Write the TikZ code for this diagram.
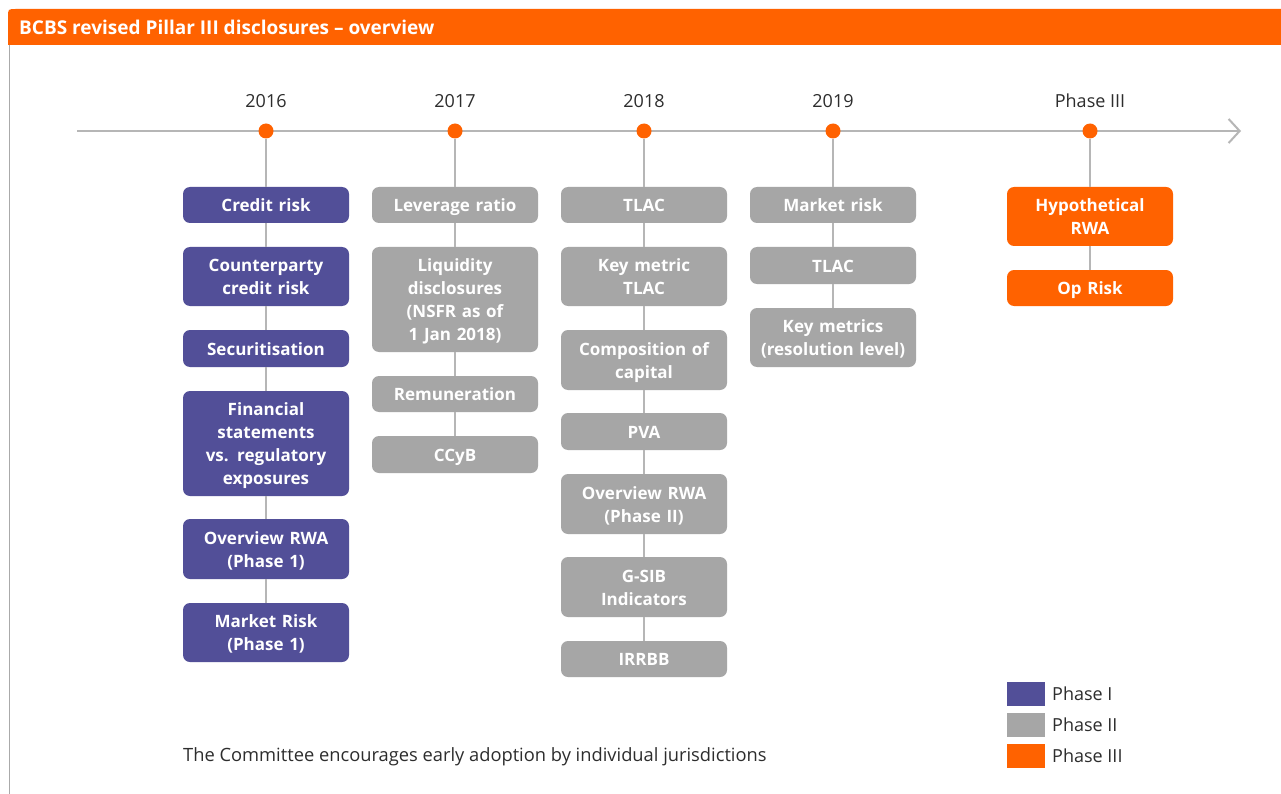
\documentclass[tikz,border=0pt]{standalone}
\usepackage{fontspec}
\setmainfont{Open Sans}
\usetikzlibrary{arrows.meta}
\definecolor{ingorange}{RGB}{255,98,0}
\definecolor{phaseone}{RGB}{82,79,152}
\definecolor{phasetwo}{RGB}{166,166,166}
\definecolor{rulegray}{RGB}{182,182,182}
\definecolor{framegray}{RGB}{170,170,170}
\definecolor{textdark}{RGB}{45,45,45}

\begin{document}
\begin{tikzpicture}[x=1pt,y=-1pt,
  box/.style={rounded corners=7pt, minimum width=166pt, text width=164pt,
    align=center, inner sep=0pt, text=white,
    font=\bfseries\fontsize{17}{23}\selectfont,
    execute at begin node=\rule{0pt}{18pt},
    execute at end node=\rule[-5pt]{0pt}{5pt}},
  p1/.style={box, fill=phaseone},
  p2/.style={box, fill=phasetwo},
  p3/.style={box, fill=ingorange},
  link/.style={draw=rulegray, line width=2pt},
  dot/.style={circle, fill=ingorange, minimum size=15pt, inner sep=0pt},
  year/.style={text=textdark, font=\fontsize{18}{20}\selectfont},
  swatch/.style={minimum width=38pt, minimum height=24pt, inner sep=0pt},
  legendtext/.style={anchor=west, text=textdark, inner sep=0pt,
    font=\fontsize{18}{20}\selectfont},
]
\useasboundingbox (0,0) rectangle (1281,794);
\fill[white] (0,0) rectangle (1281,794);

% frame and title bar
\draw[framegray, line width=1.5pt] (9.5,45) -- (9.5,794);
\fill[ingorange] (8,45) -- (8,17) .. controls (8,9) .. (16,9) -- (1281,9) -- (1281,45) -- cycle;
\node[anchor=west, text=white, inner sep=0pt,
  font=\bfseries\fontsize{19}{22}\selectfont] (title) at (19,27)
  {BCBS revised Pillar III disclosures – overview};

% timeline
\coordinate (tstart) at (77,131);
\coordinate (tend) at (1241,131);
\draw[rulegray, line width=2pt, -{Straight Barb[length=11pt,width=24pt,line width=2pt]}]
  (tstart) -- (tend);

\foreach \n/\x/\lab in {a/266/2016, b/455/2017, c/644/2018, d/833/2019, e/1090/Phase III}{
  \node[dot] (dot\n) at (\x,131) {};
  \node[year] (year\n) at (\x,101) {\lab};
}

% 2016 column
\node[p1, minimum height=36pt]  (a1) at (266,205)   {Credit risk};
\node[p1, minimum height=59pt]  (a2) at (266,276.5) {Counterparty\\credit risk};
\node[p1, minimum height=37pt]  (a3) at (266,348.5) {Securitisation};
\node[p1, minimum height=105pt] (a4) at (266,443.5) {Financial\\statements\\vs. regulatory\\exposures};
\node[p1, minimum height=60pt]  (a5) at (266,549)   {Overview RWA\\(Phase 1)};
\node[p1, minimum height=59pt]  (a6) at (266,632.5) {Market Risk\\(Phase 1)};

% 2017 column
\node[p2, minimum height=36pt]  (b1) at (455,205)   {Leverage ratio};
\node[p2, minimum height=105pt] (b2) at (455,299.5) {Liquidity\\disclosures\\(NSFR as of\\1 Jan 2018)};
\node[p2, minimum height=36pt]  (b3) at (455,394)   {Remuneration};
\node[p2, minimum height=37pt]  (b4) at (455,454.5) {CCyB};

% 2018 column
\node[p2, minimum height=36pt]  (c1) at (644,205)   {TLAC};
\node[p2, minimum height=59pt]  (c2) at (644,276.5) {Key metric\\TLAC};
\node[p2, minimum height=60pt]  (c3) at (644,360)   {Composition of\\capital};
\node[p2, minimum height=37pt]  (c4) at (644,431.5) {PVA};
\node[p2, minimum height=60pt]  (c5) at (644,504)   {Overview RWA\\(Phase II)};
\node[p2, minimum height=60pt]  (c6) at (644,587)   {G-SIB\\Indicators};
\node[p2, minimum height=36pt]  (c7) at (644,659)   {IRRBB};

% 2019 column
\node[p2, minimum height=36pt]  (d1) at (833,205)   {Market risk};
\node[p2, minimum height=37pt]  (d2) at (833,265.5) {TLAC};
\node[p2, minimum height=59pt]  (d3) at (833,337.5) {Key metrics\\(resolution level)};

% Phase III column
\node[p3, minimum height=59pt]  (e1) at (1090,216.5) {Hypothetical\\RWA};
\node[p3, minimum height=36pt]  (e2) at (1090,288)   {Op Risk};

% vertical connectors
\draw[link] (dota) -- (a1) (a1) -- (a2) (a2) -- (a3) (a3) -- (a4) (a4) -- (a5) (a5) -- (a6);
\draw[link] (dotb) -- (b1) (b1) -- (b2) (b2) -- (b3) (b3) -- (b4);
\draw[link] (dotc) -- (c1) (c1) -- (c2) (c2) -- (c3) (c3) -- (c4) (c4) -- (c5) (c5) -- (c6) (c6) -- (c7);
\draw[link] (dotd) -- (d1) (d1) -- (d2) (d2) -- (d3);
\draw[link] (dote) -- (e1) (e1) -- (e2);

% legend
\node[swatch, fill=phaseone] (sw1) at (1026,694) {};
\node[swatch, fill=phasetwo] (sw2) at (1026,725) {};
\node[swatch, fill=ingorange] (sw3) at (1026,756) {};
\node[legendtext] (lg1) at (1052,694) {Phase I};
\node[legendtext] (lg2) at (1052,725) {Phase II};
\node[legendtext] (lg3) at (1052,756) {Phase III};

% footnote
\node[anchor=west, text=textdark, inner sep=0pt, font=\fontsize{18.3}{20}\selectfont]
  (note) at (183,757) {The Committee encourages early adoption by individual jurisdictions};
\end{tikzpicture}
\end{document}
